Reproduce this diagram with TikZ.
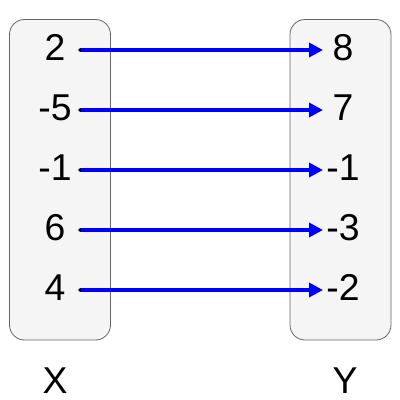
\documentclass[tikz,border=0pt]{standalone}
\usepackage{fontspec}
\setmainfont{Liberation Sans}
\usetikzlibrary{arrows.meta}
\definecolor{boxfill}{HTML}{F5F5F5}
\definecolor{boxline}{HTML}{666666}
\tikzset{
  setbox/.style={draw=boxline, fill=boxfill, line width=0.8bp, rounded corners=15bp},
  val/.style={anchor=base, inner sep=0pt, font=\fontsize{37.5}{40}\selectfont},
  maparrow/.style={draw=blue, line width=3.5bp, -{Triangle[length=14bp,width=14bp]}},
  dotmark/.style={fill=black}
}
\begin{document}
\begin{tikzpicture}[x=1bp,y=-1bp]
\useasboundingbox (0,0) rectangle (400,400);
\draw[setbox] (9.5,19.5) rectangle (110.5,340);
\draw[setbox] (290,19.5) rectangle (391,340);
% left labels
\node[val] (x1) at (55,60) {2};
\node[val] (x2) at (55,120) {-5};
\node[val] (x3) at (55,180) {-1};
\node[val] (x4) at (55,240) {6};
\node[val] (x5) at (55,300) {4};
% right labels
\node[val] (y1) at (343,60) {8};
\node[val] (y2) at (343,120) {7};
\node[val] (y3) at (343,180) {-1};
\node[val] (y4) at (343,240) {-3};
\node[val] (y5) at (343,300) {-2};
% set names
\node[val] (X) at (55,393) {X};
\node[val] (Y) at (345,393) {Y};
% arrow endpoints
\foreach \i/\yy in {1/50,2/110,3/170,4/230,5/290}{
  \coordinate (s\i) at (80,\yy);
  \coordinate (t\i) at (323,\yy);
}
\foreach \i in {1,...,5}{
  \draw[maparrow] (s\i) -- (t\i);
  \fill[dotmark] (s\i) circle (1.8bp);
}
\end{tikzpicture}
\end{document}
